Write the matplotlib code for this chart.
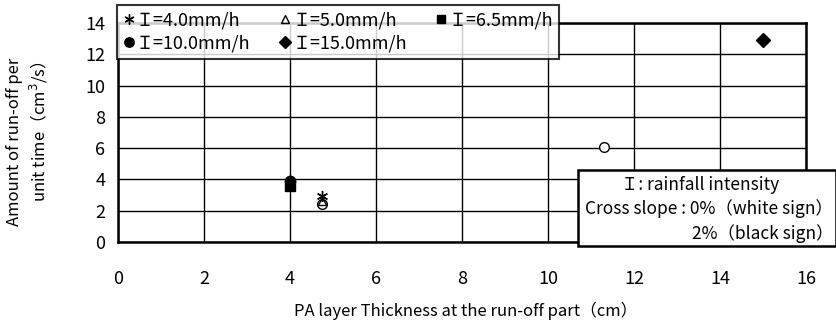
import matplotlib
matplotlib.use("Agg")
import matplotlib.pyplot as plt
from matplotlib.patches import Rectangle

plt.rcParams['font.family'] = ['Noto Sans CJK JP', 'DejaVu Sans']

# data
labels = ['Ｉ=4.0mm/h', 'Ｉ=5.0mm/h', 'Ｉ=6.5mm/h', 'Ｉ=10.0mm/h', 'Ｉ=15.0mm/h']
markers = [(6, 2, 0), '^', 's', 'o', 'D']
filled = [True, False, True, True, True]
x_vals = [[4.75], [4.75], [4.0], [4.0], [15.0]]
y_vals = [[2.95], [2.6], [3.6], [3.9], [12.9]]
sizes = [8, 6, 7, 7.5, 7]

# white sign (0% slope), I=10.0mm/h
open_x = [4.75, 11.3]
open_y = [2.4, 6.1]

W, H = 836, 331
fig = plt.figure(figsize=(W / 100, H / 100), dpi=100)
ax = fig.add_axes([118 / W, 1 - 242 / H, (806 - 118) / W, (242 - 23) / H])

handles = []
for lab, m, f, xs, ys, ms in zip(labels, markers, filled, x_vals, y_vals, sizes):
    h, = ax.plot(xs, ys, linestyle='none', marker=m, markersize=ms,
                 markerfacecolor='black' if f else 'none',
                 markeredgecolor='black', markeredgewidth=1.0, label=lab, zorder=6)
    handles.append(h)
ax.plot(open_x, open_y, linestyle='none', marker='o', markersize=7,
        markerfacecolor='white', markeredgecolor='black', markeredgewidth=1.0, zorder=5)

ax.set_xlim(0, 16)
ax.set_ylim(0, 14)
ax.set_xticks(range(0, 17, 2))
ax.set_yticks(range(0, 15, 2))
ax.grid(True, color='black', linewidth=1.0)
ax.set_axisbelow(True)
for sp in ax.spines.values():
    sp.set_linewidth(1.8)
    sp.set_color('black')
ax.tick_params(axis='x', length=0, pad=20, labelsize=13)
ax.tick_params(axis='y', length=0, pad=9, labelsize=13)

fig.text(466 / W, 1 - 311 / H, 'PA layer Thickness at the run-off part（cm）',
         ha='center', va='center', fontsize=12)
fig.text(15 / W, 1 - 142 / H, 'Amount of run-off per', rotation=90,
         ha='center', va='center', fontsize=12)
fig.text(39 / W, 1 - 132 / H, 'unit time（cm$^3$/s）', rotation=90,
         ha='center', va='center', fontsize=12)

# legend, rows filled left to right
order = [0, 3, 1, 4, 2]
leg = fig.legend([handles[i] for i in order], [labels[i] for i in order],
                 loc='upper left', bbox_to_anchor=(117 / W, 1 - 5 / H),
                 ncol=3, frameon=True, fancybox=False, fontsize=13,
                 handlelength=0.6, handletextpad=0.1, columnspacing=1.6,
                 borderpad=0.35, labelspacing=0.3, borderaxespad=0,
                 markerscale=0.9)
leg.get_frame().set_edgecolor('black')
leg.get_frame().set_linewidth(1.5)
leg.set_zorder(10)

# note box
fig.add_artist(Rectangle((578 / W, 1 - 246 / H), (W - 578) / W, 76 / H,
                         transform=fig.transFigure, facecolor='white',
                         edgecolor='black', linewidth=1.8, zorder=10))
fig.text(700 / W, 1 - 185 / H, 'Ｉ: rainfall intensity', ha='center', va='center',
         fontsize=12.5, zorder=11)
fig.text(833 / W, 1 - 209 / H, 'Cross slope : 0%（white sign）', ha='right', va='center',
         fontsize=12.5, zorder=11)
fig.text(833 / W, 1 - 234 / H, '2%（black sign）', ha='right', va='center',
         fontsize=12.5, zorder=11)

fig.savefig('out.png', dpi=100)
